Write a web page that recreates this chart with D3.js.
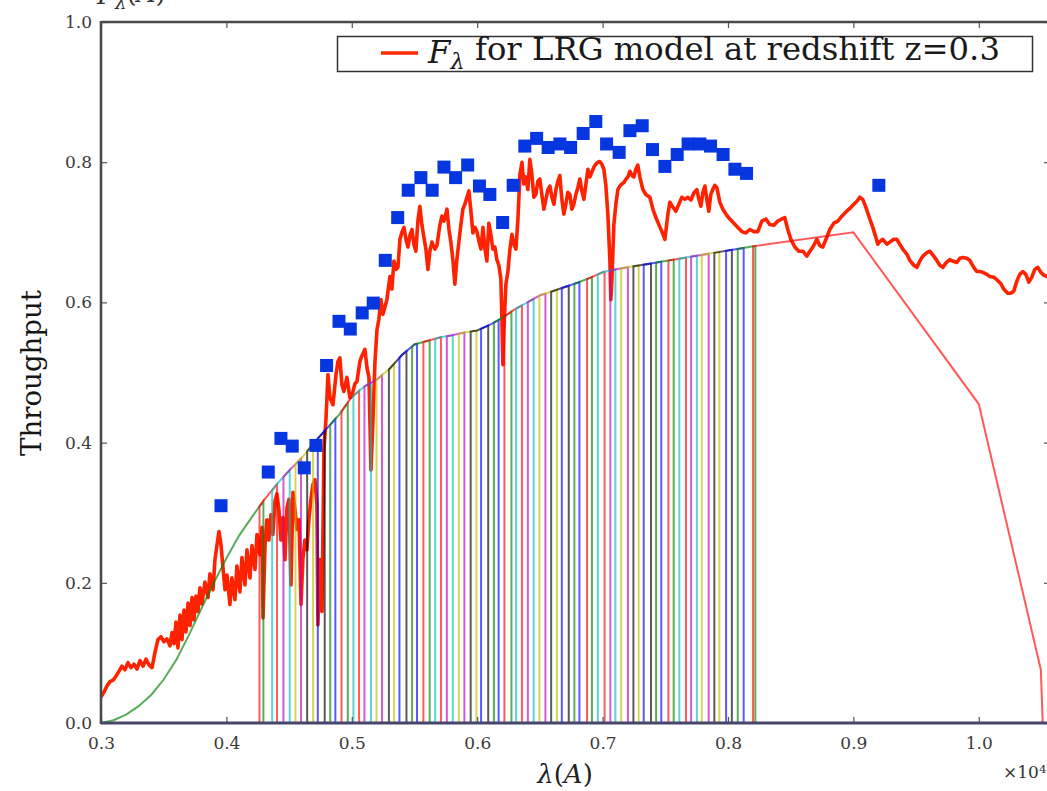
<!DOCTYPE html>
<html>
<head>
<meta charset="utf-8">
<script src="https://cdn.jsdelivr.net/npm/d3@7"></script>
<style>
  html, body { margin: 0; padding: 0; background: #fff; }
  svg { display: block; }
</style>
</head>
<body>
<svg id="chart" width="1047" height="791"></svg>
<script>
// ---- LRG model spectrum at z = 0.3 : wavelength (Angstrom) and normalised F_lambda ----
const specWave = [
  3000,3024,3048,3072,3096,3120,3144,3167,3191,3215,
  3239,3263,3287,3311,3335,3359,3383,3407,3431,3454,
  3478,3502,3526,3550,3566,3582,3598,3614,3630,3646,
  3662,3678,3694,3710,3726,3741,3757,3773,3789,3805,
  3829,3853,3869,3893,3909,3925,3941,3957,3973,3989,
  4005,4028,4044,4068,4084,4108,4124,4148,4164,4188,
  4204,4228,4244,4268,4284,4292,4308,4323,4339,4355,
  4371,4387,4403,4419,4435,4451,4467,4483,4499,4515,
  4531,4547,4563,4579,4595,4610,4626,4642,4658,4674,
  4690,4706,4722,4730,4746,4762,4778,4794,4810,4826,
  4850,4874,4890,4905,4921,4937,4961,4985,5001,5025,
  5041,5065,5081,5105,5121,5137,5153,5169,5185,5201,
  5216,5232,5248,5264,5280,5304,5320,5336,5352,5368,
  5384,5400,5416,5432,5448,5464,5480,5495,5511,5527,
  5543,5559,5575,5591,5607,5623,5639,5663,5679,5703,
  5719,5735,5759,5775,5790,5806,5822,5838,5854,5870,
  5886,5902,5918,5934,5950,5966,5982,5998,6014,6030,
  6046,6062,6077,6093,6109,6125,6141,6157,6173,6189,
  6197,6205,6213,6229,6245,6261,6277,6293,6309,6325,
  6341,6357,6372,6388,6404,6420,6436,6452,6468,6484,
  6500,6516,6532,6548,6564,6580,6596,6612,6628,6644,
  6659,6675,6691,6707,6723,6739,6755,6771,6787,6803,
  6819,6835,6851,6867,6883,6899,6915,6931,6946,6962,
  6978,6994,7010,7026,7042,7058,7066,7074,7090,7106,
  7122,7138,7154,7170,7186,7202,7218,7234,7250,7265,
  7281,7297,7321,7345,7377,7401,7425,7449,7473,7497,
  7521,7537,7560,7584,7608,7632,7656,7680,7704,7728,
  7752,7768,7784,7800,7816,7831,7847,7863,7879,7895,
  7911,7935,7959,7991,8015,8047,8079,8111,8142,8174,
  8206,8238,8270,8302,8334,8366,8397,8429,8453,8477,
  8501,8533,8565,8597,8629,8653,8677,8709,8732,8756,
  8788,8812,8844,8876,8908,8940,8972,9003,9027,9051,
  9075,9099,9131,9155,9179,9195,9211,9235,9267,9291,
  9322,9346,9370,9394,9426,9450,9482,9506,9530,9554,
  9586,9609,9641,9665,9689,9713,9737,9769,9793,9825,
  9849,9873,9904,9928,9960,9984,10008,10032,10064,10088,
  10120,10152,10175,10199,10231,10255,10279,10303,10327,10351,
  10375,10399,10423,10447,10471,10494,10518,10542,10570
];
const specFlux = [
  0.037,0.044,0.053,0.059,0.061,0.067,0.074,0.081,0.076,0.086,
  0.079,0.084,0.077,0.089,0.081,0.091,0.083,0.079,0.101,0.119,
  0.123,0.116,0.120,0.110,0.129,0.113,0.144,0.107,0.154,0.119,
  0.161,0.130,0.171,0.139,0.179,0.147,0.181,0.159,0.193,0.170,
  0.201,0.179,0.213,0.190,0.233,0.254,0.273,0.254,0.221,0.190,
  0.211,0.169,0.207,0.176,0.224,0.187,0.236,0.197,0.247,0.207,
  0.253,0.219,0.269,0.240,0.279,0.150,0.254,0.290,0.261,0.297,
  0.269,0.316,0.327,0.304,0.261,0.293,0.233,0.307,0.319,0.197,
  0.329,0.304,0.276,0.290,0.169,0.233,0.261,0.247,0.290,0.319,
  0.340,0.347,0.311,0.140,0.233,0.159,0.390,0.433,0.497,0.464,
  0.454,0.497,0.516,0.521,0.483,0.473,0.493,0.464,0.467,0.484,
  0.487,0.516,0.524,0.533,0.507,0.493,0.361,0.433,0.516,0.561,
  0.576,0.604,0.583,0.593,0.604,0.637,0.619,0.659,0.647,0.650,
  0.690,0.700,0.707,0.690,0.679,0.696,0.704,0.683,0.673,0.716,
  0.737,0.711,0.693,0.676,0.647,0.673,0.686,0.676,0.681,0.711,
  0.723,0.716,0.733,0.704,0.686,0.661,0.626,0.661,0.686,0.711,
  0.733,0.740,0.750,0.759,0.730,0.699,0.707,0.701,0.687,0.676,
  0.707,0.676,0.659,0.713,0.697,0.676,0.679,0.661,0.653,0.633,
  0.576,0.511,0.561,0.626,0.644,0.676,0.697,0.683,0.676,0.719,
  0.783,0.800,0.769,0.779,0.761,0.804,0.783,0.750,0.754,0.773,
  0.776,0.753,0.733,0.747,0.761,0.766,0.750,0.740,0.761,0.773,
  0.781,0.747,0.726,0.740,0.757,0.754,0.733,0.740,0.754,0.764,
  0.776,0.759,0.747,0.769,0.790,0.779,0.786,0.793,0.797,0.800,
  0.801,0.797,0.790,0.767,0.726,0.661,0.604,0.630,0.711,0.740,
  0.761,0.766,0.769,0.771,0.776,0.779,0.787,0.781,0.779,0.790,
  0.796,0.779,0.761,0.754,0.750,0.733,0.721,0.711,0.701,0.690,
  0.726,0.743,0.736,0.730,0.740,0.750,0.747,0.750,0.746,0.756,
  0.761,0.747,0.737,0.757,0.766,0.747,0.730,0.754,0.761,0.767,
  0.764,0.743,0.733,0.724,0.719,0.713,0.707,0.701,0.699,0.704,
  0.701,0.701,0.716,0.719,0.711,0.710,0.716,0.719,0.721,0.704,
  0.690,0.679,0.673,0.673,0.666,0.673,0.679,0.690,0.681,0.679,
  0.693,0.704,0.713,0.716,0.723,0.729,0.734,0.740,0.744,0.750,
  0.747,0.736,0.719,0.707,0.693,0.683,0.687,0.690,0.683,0.686,
  0.690,0.690,0.683,0.676,0.669,0.660,0.653,0.650,0.659,0.666,
  0.671,0.673,0.666,0.660,0.653,0.650,0.656,0.661,0.659,0.657,
  0.663,0.664,0.663,0.660,0.650,0.644,0.644,0.643,0.640,0.637,
  0.636,0.631,0.627,0.619,0.613,0.613,0.616,0.630,0.640,0.644,
  0.640,0.629,0.636,0.647,0.650,0.643,0.639,0.637,0.635
];

// ---- Total system throughput (Angstrom, fraction) ----
const thrWave = [
  3000,3100,3200,3300,3400,3500,3600,3700,3800,3900,
  4000,4100,4200,4300,4400,4500,4600,4700,4800,4900,
  5000,5100,5200,5300,5400,5500,5600,5700,5800,5900,
  6000,6100,6200,6300,6400,6500,6600,6700,6800,6900,
  7000,7100,7200,7300,7400,7500,7600,7700,7800,7900,
  8000,8100,8200,9000,10000,10495,10510
];
const thrValue = [
  0.000,0.004,0.012,0.024,0.040,0.062,0.090,0.125,0.163,0.200,
  0.235,0.267,0.293,0.318,0.340,0.360,0.378,0.400,0.420,0.440,
  0.465,0.480,0.490,0.505,0.525,0.540,0.545,0.550,0.553,0.557,
  0.560,0.568,0.578,0.590,0.600,0.610,0.616,0.622,0.628,0.635,
  0.643,0.647,0.650,0.653,0.656,0.659,0.662,0.665,0.668,0.671,
  0.674,0.677,0.680,0.700,0.455,0.076,0.000
];

// ---- Narrow-band filter centres (Angstrom) and half width ----
const narrowCentres = [
  4334,4435,4525,4621,4714,4799,4898,4988,5083,5171,
  5267,5366,5450,5551,5641,5735,5828,5924,6018,6101,
  6203,6287,6380,6474,6566,6660,6745,6845,6946,7032,
  7132,7218,7316,7398,7497,7595,7682,7776,7861,7961,
  8055,8148
];
const narrowHalfWidth = 70;
// broad filters at either end: [blue edge, red edge]
const blueBroad = [3000, 4295];
const redBroad = [8200, 10510];
const filterColours = ['#ff0000', '#00bfbf', '#bf00bf', '#bfbf00', '#000000', '#0000ff', '#008000'];

// ---- Synthetic photometry through each filter ----
const photWave = [
  3957,4334,4435,4525,4621,4714,4799,4898,4988,5083,
  5171,5267,5366,5450,5551,5641,5735,5828,5924,6018,
  6101,6203,6287,6380,6474,6566,6660,6745,6845,6946,
  7032,7132,7218,7316,7398,7497,7595,7682,7776,7861,
  7961,8055,8148,9203
];
const photFlux = [
  0.310,0.358,0.406,0.395,0.364,0.396,0.510,0.573,0.562,0.585,
  0.599,0.660,0.721,0.760,0.778,0.760,0.793,0.778,0.796,0.766,
  0.754,0.714,0.767,0.823,0.834,0.821,0.826,0.821,0.841,0.858,
  0.826,0.814,0.845,0.852,0.818,0.794,0.811,0.826,0.826,0.823,
  0.811,0.790,0.784,0.767
];

// ---- Axis ticks ----
const xTicks = [0.3, 0.4, 0.5, 0.6, 0.7, 0.8, 0.9, 1.0];
const yTicks = [0.0, 0.2, 0.4, 0.6, 0.8, 1.0];

const serif = "'DejaVu Serif', 'Liberation Serif', serif";
const svg = d3.select('#chart');

const plotL = 101, plotR = 1050, plotT = 22, plotB = 723;
const x = d3.scaleLinear().domain([0.3, 1.0568]).range([plotL, plotR]);
const y = d3.scaleLinear().domain([0, 1]).range([plotB, plotT]);
const xa = w => x(w / 1e4);            // wavelength in Angstrom -> px (axis in units of 1e4 A)
const thr = d3.scaleLinear().domain(thrWave).range(thrValue);

svg.append('rect').attr('width', 1047).attr('height', 791).attr('fill', '#fff');

svg.append('defs').append('clipPath').attr('id', 'plotArea')
  .append('rect').attr('x', plotL).attr('y', plotT)
  .attr('width', plotR - plotL).attr('height', plotB - plotT);

const plot = svg.append('g').attr('clip-path', 'url(#plotArea)');

// model spectrum
const spectrum = specWave.map((w, i) => [w, specFlux[i]]);
plot.append('path')
  .datum(spectrum)
  .attr('d', d3.line().x(d => xa(d[0])).y(d => y(d[1])))
  .attr('fill', 'none')
  .attr('stroke', '#ff2200')
  .attr('stroke-width', 3.6)
  .attr('stroke-linejoin', 'round');

// filter response curves: top-hat windows cut from the system throughput
function outline(lo, hi) {
  const pts = [[lo, 0], [lo, thr(lo)]];
  thrWave.forEach(w => { if (w > lo && w < hi) pts.push([w, thr(w)]); });
  pts.push([hi, thr(hi)], [hi, 0]);
  return pts;
}
const filters = [{ range: blueBroad, colour: '#008000' }];
narrowCentres.forEach((c, k) => filters.push({
  range: [c - narrowHalfWidth, c + narrowHalfWidth],
  colour: filterColours[k % filterColours.length]
}));
filters.push({ range: redBroad, colour: '#ff0000' });

const filterLine = d3.line().x(d => xa(d[0])).y(d => y(d[1]));
plot.append('g').selectAll('path')
  .data(filters)
  .join('path')
  .attr('d', f => filterLine(outline(f.range[0], f.range[1])))
  .attr('fill', 'none')
  .attr('stroke', f => f.colour)
  .attr('stroke-opacity', 0.65)
  .attr('stroke-width', 2);

// photometric points
const sq = 13;
plot.append('g').selectAll('rect')
  .data(photWave.map((w, i) => [w, photFlux[i]]))
  .join('rect')
  .attr('x', d => xa(d[0]) - sq / 2)
  .attr('y', d => y(d[1]) - sq / 2)
  .attr('width', sq).attr('height', sq)
  .attr('fill', '#0536e0');

// axes: inward ticks on all four sides
function styleAxis(g) {
  g.select('.domain').remove();
  g.selectAll('.tick line').attr('stroke', '#555').attr('stroke-width', 1.2);
  g.selectAll('.tick text')
    .attr('font-family', serif)
    .attr('font-size', 17)
    .attr('fill', '#3a3a3a');
}
const fmt = d3.format('.1f');
svg.append('g').attr('transform', `translate(0,${plotB})`)
  .call(d3.axisBottom(x).tickValues(xTicks).tickFormat(fmt).tickSizeInner(-6).tickSizeOuter(0).tickPadding(14))
  .call(styleAxis);
svg.append('g').attr('transform', `translate(0,${plotT})`)
  .call(d3.axisTop(x).tickValues(xTicks).tickFormat(() => '').tickSizeInner(-6).tickSizeOuter(0))
  .call(styleAxis);
svg.append('g').attr('transform', `translate(${plotL},0)`)
  .call(d3.axisLeft(y).tickValues(yTicks).tickFormat(fmt).tickSizeInner(-6).tickSizeOuter(0).tickPadding(9))
  .call(styleAxis);
svg.append('g').attr('transform', `translate(${plotR},0)`)
  .call(d3.axisRight(y).tickValues(yTicks).tickFormat(() => '').tickSizeInner(-6).tickSizeOuter(0))
  .call(styleAxis);

// frame
const frame = svg.append('g').attr('fill', 'none');
frame.append('line').attr('x1', plotL).attr('x2', plotL).attr('y1', plotT - 1).attr('y2', plotB + 1)
  .attr('stroke', '#4a4a4a').attr('stroke-width', 2.6);
frame.append('line').attr('x1', plotL).attr('x2', plotR).attr('y1', plotT).attr('y2', plotT)
  .attr('stroke', '#4a4a4a').attr('stroke-width', 2.6);
frame.append('line').attr('x1', plotR).attr('x2', plotR).attr('y1', plotT).attr('y2', plotB)
  .attr('stroke', '#4a4a4a').attr('stroke-width', 2.6);
frame.append('line').attr('x1', plotL).attr('x2', plotR).attr('y1', plotB).attr('y2', plotB)
  .attr('stroke', '#46466a').attr('stroke-width', 2.8);

// scale a label so that it spans a given width
function fitWidth(sel, width) {
  const w = sel.node().getComputedTextLength();
  const fs = parseFloat(sel.attr('font-size'));
  sel.attr('font-size', fs * width / w);
}

// y label
const yl = svg.append('text')
  .attr('transform', 'translate(41,373) rotate(-90)')
  .attr('text-anchor', 'middle')
  .attr('font-family', serif).attr('font-size', 24).attr('fill', '#151515')
  .text('Throughput');
fitWidth(yl, 166);

// x label: lambda (A)
const xl = svg.append('text')
  .attr('x', 565).attr('y', 783)
  .attr('text-anchor', 'middle')
  .attr('font-family', serif).attr('font-size', 26).attr('fill', '#222');
xl.append('tspan').attr('font-style', 'italic').text('λ');
xl.append('tspan').text('(');
xl.append('tspan').attr('font-style', 'italic').text('A');
xl.append('tspan').text(')');

// axis multiplier, kept inside the right edge
const mult = svg.append('text')
  .attr('x', 1003).attr('y', 778)
  .attr('font-family', serif).attr('font-size', 17).attr('fill', '#333');
mult.append('tspan').text('×10');
mult.append('tspan').attr('dy', '-0.45em').style('font-size', '0.7em').text('4');

// label above the frame
const tl = svg.append('text')
  .attr('x', 97).attr('y', 4)
  .attr('font-family', serif).attr('font-size', 26).attr('fill', '#333');
tl.append('tspan').attr('font-style', 'italic').text('F');
tl.append('tspan').attr('dy', '0.25em').style('font-size', '0.7em').attr('font-style', 'italic').text('λ');
tl.append('tspan').attr('dy', '-0.25em').text('(');
tl.append('tspan').attr('font-style', 'italic').text('A');
tl.append('tspan').text(')');

// legend
const lg = svg.append('g');
lg.append('rect')
  .attr('x', 337.5).attr('y', 36.5).attr('width', 695).attr('height', 35)
  .attr('fill', '#fff').attr('stroke', '#333').attr('stroke-width', 1.5);
lg.append('line')
  .attr('x1', 381).attr('x2', 418).attr('y1', 53).attr('y2', 53)
  .attr('stroke', '#ff2a00').attr('stroke-width', 3.5);
const lt = lg.append('text')
  .attr('x', 428).attr('y', 63)
  .attr('font-family', serif).attr('font-size', 24).attr('fill', '#1a1a1a');
lt.append('tspan').attr('font-style', 'italic').text('F');
lt.append('tspan').attr('dy', '0.28em').style('font-size', '0.7em').attr('font-style', 'italic').text('λ');
lt.append('tspan').attr('dy', '-0.28em').text(' for LRG model at redshift z=0.3');
fitWidth(lt, 572);
</script>
</body>
</html>
